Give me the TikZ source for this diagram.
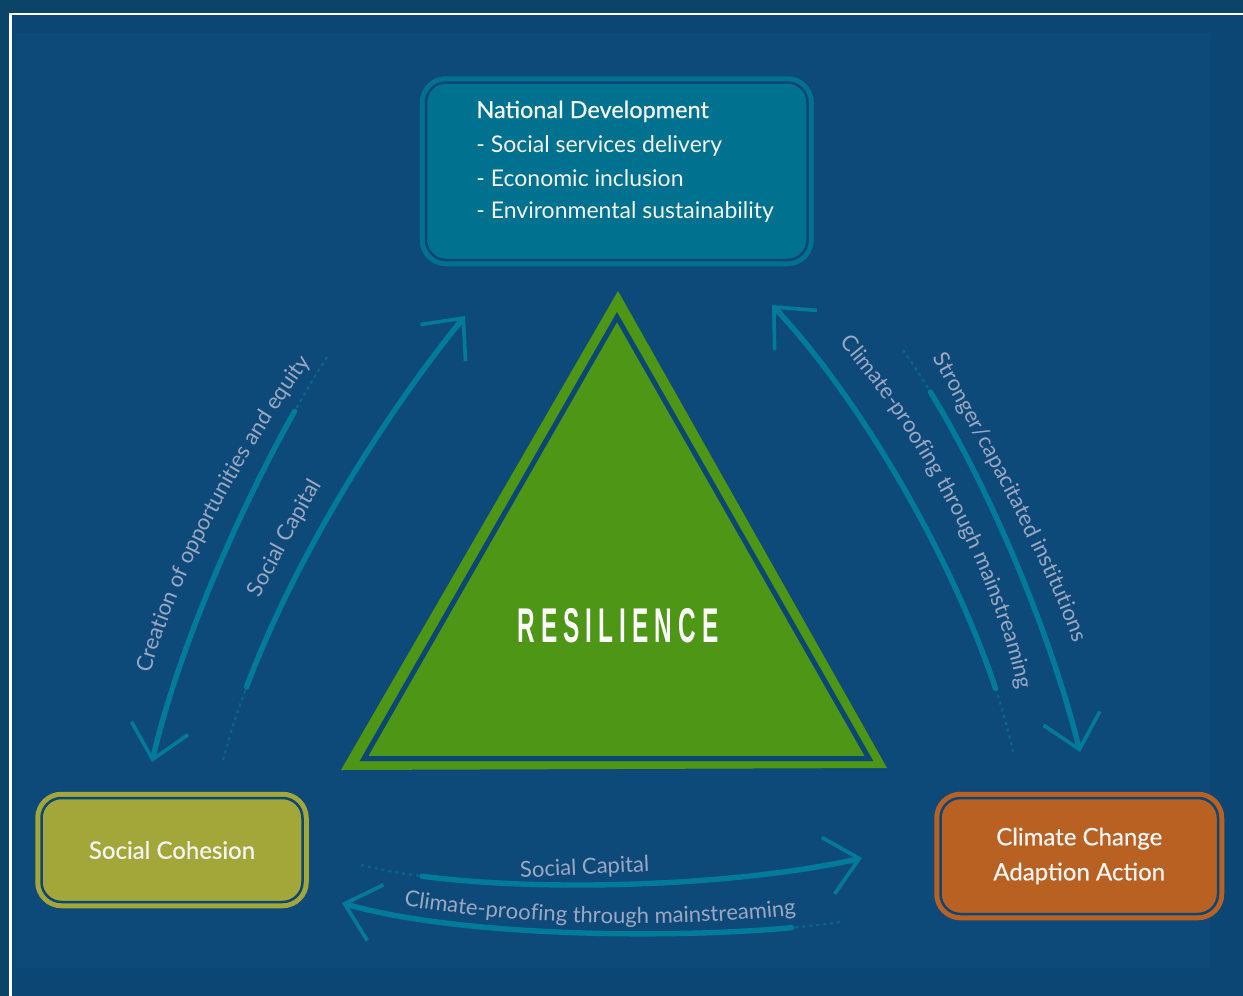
\documentclass[tikz,border=0pt]{standalone}
\usepackage{fontspec}
\setmainfont{Lato}
\newfontfamily\mediumfont[FakeBold=0.6]{Lato}
\newfontfamily\stencilfont[LetterSpace=25]{Liberation Sans}
\usetikzlibrary{arrows.meta,decorations.text}

\definecolor{frameblue}{HTML}{0B4466}
\definecolor{bgblue}{HTML}{0B4675}
\definecolor{bglight}{HTML}{0E4A79}
\definecolor{tealbox}{HTML}{00718F}
\definecolor{olivebox}{HTML}{A3A73A}
\definecolor{orangebox}{HTML}{B96122}
\definecolor{leafgreen}{HTML}{4E9616}
\definecolor{arrowteal}{HTML}{027B9B}
\definecolor{labelgrey}{HTML}{9CA7C2}
\definecolor{boxtext}{HTML}{F4F4F2}

\newcommand\arrowlabelfont{\fontsize{11}{13}\selectfont\color{labelgrey}}

\begin{document}
\begin{tikzpicture}[x=0.5pt,y=-0.5pt,
  panel/.style={rounded corners=10pt, line width=2.5pt, double=bgblue,
    double distance=1.25pt, inner sep=0pt, text=boxtext, align=center,
    font=\mediumfont\fontsize{12}{17.5}\selectfont},
  itemtext/.style={anchor=base west, inner sep=0pt, text=boxtext,
    font=\fontsize{11.5}{13}\selectfont},
  arrowline/.style={draw=arrowteal, line width=2.7pt, line cap=round,
    -{Straight Barb[length=16pt,width=29pt,line width=1.8pt]}},
  arrowtrail/.style={draw=arrowteal, line width=1.1pt,
    dash pattern=on 1.5pt off 2pt, opacity=0.6},
  curvedlabel/.style={decorate, decoration={text along path,
    text align=center, text={|\arrowlabelfont|#1}}}
]
\useasboundingbox (0,0) rectangle (1243,996);

% backdrop and frame
\fill[frameblue] (0,0) rectangle (1243,996);
\fill[bgblue] (10,14) rectangle (1243,996);
\fill[bglight] (16,33) rectangle (1210,968);
\draw[white, line width=1.2pt] (10.5,996) -- (10.5,14) -- (1243,14);

% central triangle
\fill[leafgreen] (618,291) -- (341,770) -- (887,768) -- cycle;
\filldraw[fill=leafgreen, draw=bgblue, line width=2.5pt, line join=miter]
  (617,317) -- (364,758.5) -- (869,758.5) -- cycle;
\node[text=white, inner sep=0pt] (resil) at (618,626)
  {\scalebox{0.5}[1]{\stencilfont\bfseries\fontsize{24.4}{26}\selectfont RESILIENCE}};

% the three boxes
\node[panel, draw=tealbox, fill=tealbox, minimum width=190.75pt,
  minimum height=88.75pt] (natdev) at (616.75,171.25) {};
\node[itemtext, font=\mediumfont\fontsize{11.75}{13}\selectfont] (ndtitle) at (476,118) {National Development};
\node[itemtext] (nditema) at (476,152) {- Social services delivery};
\node[itemtext] (nditemb) at (476,186) {- Economic inclusion};
\node[itemtext] (nditemc) at (476,218) {- Environmental sustainability};

\node[panel, draw=olivebox, fill=olivebox, minimum width=130.5pt,
  minimum height=52pt] (cohesion) at (172,850) {Social Cohesion};
\node[panel, draw=orangebox, fill=orangebox, minimum width=138.75pt,
  minimum height=58pt] (climate) at (1079.25,856) {Climate Change\\Adaption Action};

% connector end points: faint start, start of the solid stroke, tip
\coordinate (aStart) at (327,357);  \coordinate (aMid) at (294.6,411.3);  \coordinate (aEnd) at (152,762);
\coordinate (bStart) at (223,760);  \coordinate (bMid) at (246.5,687);    \coordinate (bEnd) at (465,316);
\coordinate (cStart) at (1013,752); \coordinate (cMid) at (995.5,688.5);  \coordinate (cEnd) at (772,305);
\coordinate (dStart) at (903,350);  \coordinate (dMid) at (930.4,392);    \coordinate (dEnd) at (1080,752);
\coordinate (eStart) at (361,865);  \coordinate (eMid) at (422,876.2);    \coordinate (eEnd) at (862,858);
\coordinate (fStart) at (840,922);  \coordinate (fMid) at (791.6,927.7);  \coordinate (fEnd) at (342,903);

% national development <-> social cohesion
\draw[arrowtrail] (aStart) .. controls (316.2,374) and (305.3,392.2) .. (aMid);
\draw[arrowline] (aMid) .. controls (233.6,519.9) and (175.8,658.3) .. (aEnd);
\draw[arrowtrail] (bStart) .. controls (229.3,736) and (237.2,711.6) .. (bMid);
\draw[arrowline] (bMid) .. controls (298.8,547.7) and (392.75,404.4) .. (bEnd);
% national development <-> climate change adaption
\draw[arrowtrail] (cStart) .. controls (1008.8,732.2) and (1002.9,710.9) .. (cMid);
\draw[arrowline] (cMid) .. controls (953.4,561.9) and (863.8,402.75) .. (cEnd);
\draw[arrowtrail] (dStart) .. controls (912.2,363.2) and (921.4,377.3) .. (dMid);
\draw[arrowline] (dMid) .. controls (996.2,500.1) and (1053.6,644.6) .. (dEnd);
% social cohesion <-> climate change adaption
\draw[arrowtrail] (eStart) .. controls (378.9,869.5) and (399.4,873.2) .. (eMid);
\draw[arrowline] (eMid) .. controls (549.8,892.9) and (741.3,885.2) .. (eEnd);
\draw[arrowtrail] (fStart) .. controls (825.6,924.2) and (809.3,926.1) .. (fMid);
\draw[arrowline] (fMid) .. controls (661.8,939.5) and (454.6,935.6) .. (fEnd);

% labels running along the connectors
\path[curvedlabel={Creation of opportunities and equity}]
  (140,712) .. controls (170,580) and (250,440) .. (335,330);
\path[curvedlabel={Social Capital}]
  (240,640) .. controls (262,590) and (315,495) .. (345,445);
\path[curvedlabel={Climate-proofing through mainstreaming}]
  (820,322) .. controls (904,406) and (1007,586) .. (1022,718);
\path[curvedlabel={Stronger/capacitated institutions}]
  (918,330) .. controls (965,420) and (1062,587) .. (1083,673);
\path[curvedlabel={Social Capital}]
  (470,880) -- (700,869);
\path[curvedlabel={Climate-proofing through mainstreaming}]
  (380,902) .. controls (527,927) and (673,930) .. (820,912);
\end{tikzpicture}
\end{document}
